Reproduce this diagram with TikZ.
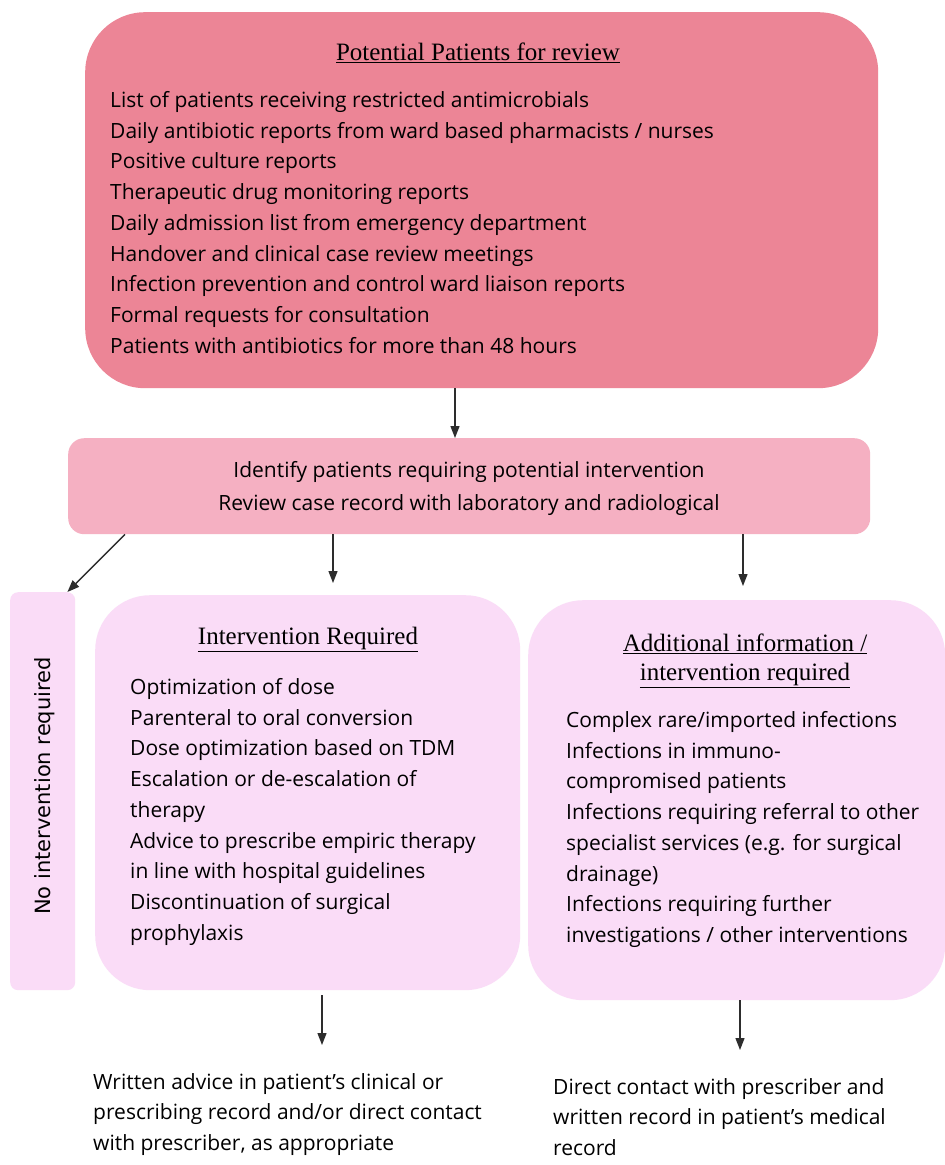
\documentclass[tikz,border=0pt]{standalone}
\usepackage{fontspec}
\setmainfont{Open Sans}
\newfontfamily\headfont{Liberation Serif}
\newfontfamily\sidefont{DejaVu Sans}
\usetikzlibrary{arrows.meta,positioning}
\definecolor{toppink}{RGB}{236,133,150}
\definecolor{midpink}{RGB}{245,176,194}
\definecolor{lowpink}{RGB}{250,220,247}
\definecolor{arrowgray}{RGB}{45,45,45}
\tikzset{
  panel/.style={fill=#1, draw=none, inner sep=0pt, anchor=north west},
  listtext/.style={anchor=north west, align=left, inner sep=0pt,
    font=\fontsize{21}{30.75}\selectfont},
  headtext/.style={align=center, inner sep=0pt,
    font=\headfont\fontsize{25}{29}\selectfont},
  flow/.style={-{Triangle[length=12pt,width=9pt]}, line width=1.3pt, draw=arrowgray, fill=arrowgray}
}
\begin{document}
\begin{tikzpicture}[x=1pt,y=-1pt]
  \useasboundingbox[fill=white] (0,0) rectangle (945,1165);

  % Boxes
  \node[panel=toppink, rounded corners=60pt, minimum width=793pt, minimum height=376pt] (review) at (85,12) {};
  \node[panel=midpink, rounded corners=16pt, minimum width=802pt, minimum height=96pt] (identify) at (68,438) {};
  \node[panel=lowpink, rounded corners=8pt, minimum width=65pt, minimum height=398pt] (none) at (10,592) {};
  \node[panel=lowpink, rounded corners=55pt, minimum width=425pt, minimum height=395pt] (required) at (95,595) {};
  \node[panel=lowpink, rounded corners=55pt, minimum width=417pt, minimum height=400pt] (additional) at (528,600) {};

  % Potential patients
  \node[headtext] (reviewhead) at (478,53) {\underline{Potential Patients for review}};
  \node[listtext] (reviewlist) at (110,91) {List of patients receiving restricted antimicrobials\\
    Daily antibiotic reports from ward based pharmacists / nurses\\
    Positive culture reports\\
    Therapeutic drug monitoring reports\\
    Daily admission list from emergency department\\
    Handover and clinical case review meetings\\
    Infection prevention and control ward liaison reports\\
    Formal requests for consultation\\
    Patients with antibiotics for more than 48 hours};

  % Identify
  \node[align=center, inner sep=0pt, font=\fontsize{21}{33}\selectfont] (identifytext) at (469,488)
    {Identify patients requiring potential intervention\\
     Review case record with laboratory and radiological};

  % No intervention
  \node[rotate=90, inner sep=0pt, font=\sidefont\fontsize{21}{24}\selectfont] (nonetext) at (45,786) {No intervention required};

  % Intervention required
  \node[headtext] (requiredhead) at (308,639) {\underline{Intervention Required}};
  \node[listtext] (requiredlist) at (130,678) {Optimization of dose\\
    Parenteral to oral conversion\\
    Dose optimization based on TDM\\
    Escalation or de-escalation of\\
    therapy\\
    Advice to prescribe empiric therapy\\
    in line with hospital guidelines\\
    Discontinuation of surgical\\
    prophylaxis};

  % Additional information
  \node[headtext] (additionalhead) at (745,661) {\underline{Additional information /}\\ \underline{intervention required}};
  \node[listtext] (additionallist) at (566,711) {Complex rare/imported infections\\
    Infections in immuno-\\
    compromised patients\\
    Infections requiring referral to other\\
    specialist services (e.g. for surgical\\
    drainage)\\
    Infections requiring further\\
    investigations / other interventions};

  % Outcomes
  \node[listtext] (advice) at (93,1073) {Written advice in patient's clinical or\\
    prescribing record and/or direct contact\\
    with prescriber, as appropriate};
  \node[listtext] (contact) at (553,1078) {Direct contact with prescriber and\\
    written record in patient's medical\\
    record};

  % Arrows
  \draw[flow] (review.south -| 455,0) -- (identify.north -| 455,0);
  \draw[flow] (identify.south -| 125,0) -- ([xshift=-8pt]none.north east);
  \draw[flow] (identify.south -| 333,0) -- ([yshift=12pt]required.north -| 333,0);
  \draw[flow] (identify.south -| 743,0) -- ([yshift=14pt]additional.north -| 743,0);
  \draw[flow] ([yshift=-5pt]required.south -| 322,0) -- ([yshift=28pt]advice.north -| 322,0);
  \draw[flow] (additional.south -| 740,0) -- ([yshift=28pt]contact.north -| 740,0);
\end{tikzpicture}
\end{document}
